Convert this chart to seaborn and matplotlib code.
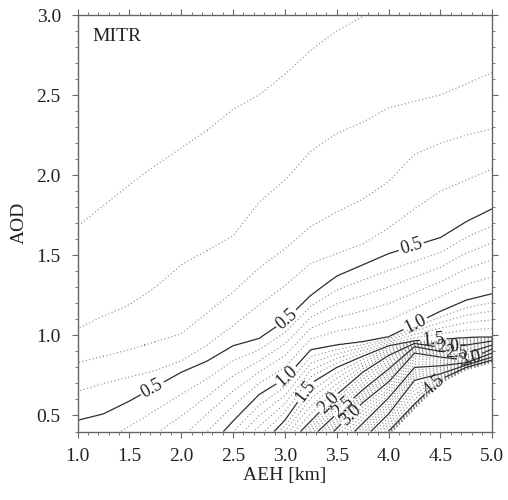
import numpy as np
import matplotlib
matplotlib.use("Agg")
import matplotlib.pyplot as plt
import seaborn as sns
from matplotlib.ticker import MultipleLocator, FormatStrFormatter

# ---------------- data ----------------
# AEH columns [km]
aeh_cols = [1.0, 1.25, 1.5, 1.75, 2.0, 2.25, 2.5, 2.75, 3.0,
            3.25, 3.5, 3.75, 4.0, 4.25, 4.5, 4.75, 5.0]

# AOD at which the field crosses each level, per AEH column
# (values outside 0.4-3.0 are estimated continuations beyond the frame)
aod_lvl_0_0 = [2.90, 3.00, 3.10, 3.20, 3.30, 3.40, 3.50, 3.60, 3.70,
               3.80, 3.90, 4.00, 4.10, 4.20, 4.30, 4.40, 4.50]
aod_lvl_0_1 = [1.68, 1.81, 1.94, 2.06, 2.17, 2.28, 2.41, 2.50, 2.63,
               2.78, 2.90, 2.99, 3.10, 3.20, 3.30, 3.40, 3.50]
aod_lvl_0_2 = [1.04, 1.12, 1.19, 1.30, 1.44, 1.53, 1.62, 1.83, 1.97,
               2.15, 2.26, 2.33, 2.42, 2.46, 2.50, 2.57, 2.64]
aod_lvl_0_3 = [0.83, 0.87, 0.91, 0.96, 1.01, 1.14, 1.27, 1.42, 1.54,
               1.68, 1.77, 1.85, 1.96, 2.13, 2.20, 2.25, 2.29]
aod_lvl_0_4 = [0.65, 0.70, 0.74, 0.78, 0.84, 0.94, 1.06, 1.19, 1.31,
               1.45, 1.51, 1.57, 1.67, 1.79, 1.90, 1.97, 2.04]
aod_lvl_0_5 = [0.47, 0.51, 0.59, 0.68, 0.77, 0.84, 0.935, 0.98, 1.09,
               1.25, 1.37, 1.44, 1.51, 1.56, 1.61, 1.71, 1.79]
aod_lvl_1_0 = [-0.70, -0.34, -0.20, -0.06, 0.085, 0.29, 0.465, 0.63, 0.73,
               0.91, 0.94, 0.96, 0.99, 1.07, 1.15, 1.22, 1.26]
aod_lvl_1_5 = [-0.84, -0.68, -0.52, -0.35, -0.19, -0.03, 0.13, 0.30, 0.47,
               0.70, 0.80, 0.87, 0.935, 0.965, 0.975, 0.985, 0.99]
aod_lvl_2_0 = [-1.00, -0.84, -0.67, -0.51, -0.35, -0.19, -0.02, 0.14, 0.30,
               0.465, 0.63, 0.77, 0.875, 0.95, 0.925, 0.94, 0.965]
aod_lvl_2_5 = [-1.10, -0.94, -0.78, -0.61, -0.45, -0.29, -0.13, 0.04, 0.20,
               0.36, 0.51, 0.66, 0.79, 0.93, 0.90, 0.89, 0.94]
aod_lvl_3_0 = [-1.21, -1.04, -0.88, -0.72, -0.56, -0.39, -0.23, -0.07, 0.09,
               0.26, 0.42, 0.58, 0.71, 0.89, 0.865, 0.845, 0.915]
aod_lvl_3_5 = [-1.34, -1.17, -1.01, -0.85, -0.69, -0.52, -0.36, -0.20, -0.04,
               0.13, 0.29, 0.45, 0.61, 0.80, 0.81, 0.83, 0.89]
aod_lvl_4_0 = [-1.44, -1.28, -1.11, -0.95, -0.79, -0.63, -0.46, -0.30, -0.14,
               0.02, 0.19, 0.35, 0.51, 0.72, 0.76, 0.815, 0.865]
aod_lvl_4_5 = [-1.55, -1.39, -1.23, -1.06, -0.90, -0.74, -0.58, -0.41, -0.25,
               -0.09, 0.08, 0.24, 0.40, 0.57, 0.725, 0.80, 0.845]
aod_lvl_5_5 = [-1.58, -1.42, -1.26, -1.09, -0.93, -0.77, -0.61, -0.44, -0.28,
               -0.12, 0.05, 0.21, 0.37, 0.54, 0.70, 0.785, 0.83]

level_values = [0.0, 0.1, 0.2, 0.3, 0.4, 0.5, 1.0, 1.5, 2.0, 2.5,
                3.0, 3.5, 4.0, 4.5, 5.5]
level_crossings = [aod_lvl_0_0, aod_lvl_0_1, aod_lvl_0_2, aod_lvl_0_3,
                   aod_lvl_0_4, aod_lvl_0_5, aod_lvl_1_0, aod_lvl_1_5,
                   aod_lvl_2_0, aod_lvl_2_5, aod_lvl_3_0, aod_lvl_3_5,
                   aod_lvl_4_0, aod_lvl_4_5, aod_lvl_5_5]

panel_title = "MITR"
x_label = "AEH [km]"
y_label = "AOD"

# ---------------- build the field ----------------
xf = np.linspace(1.0, 5.0, 401)
yf = np.linspace(0.4, 3.0, 521)
C = np.array([np.interp(xf, aeh_cols, c) for c in level_crossings])
lv = np.array(level_values)
Z = np.empty((yf.size, xf.size))
for i in range(xf.size):
    Z[:, i] = np.interp(yf, C[::-1, i], lv[::-1])

solid_levels = [0.5, 1.0, 1.5, 2.0, 2.5, 3.0, 3.5, 4.0, 4.5]
dotted_levels = [round(0.1 * k, 1) for k in range(1, 55)
                 if (k % 5 != 0) or k > 45]

# ---------------- style ----------------
sns.set_style("ticks")
plt.rcParams['font.family'] = ['Liberation Serif', 'DejaVu Serif']

fig = plt.figure(figsize=(5.08, 5.0), dpi=100)
ax = fig.add_axes([0.1526, 0.137, 0.8165, 0.833])

ax.contour(xf, yf, Z, levels=dotted_levels, colors='#8a8a8a',
           linewidths=0.8, linestyles=[(0, (1, 2.2))])

label_spots = {
    0.5: [(1.73, 0.66), (3.02, 1.10), (4.22, 1.55)],
    1.0: [(3.03, 0.74), (4.27, 1.06)],
    1.5: [(3.20, 0.65), (4.43, 0.97)],
    2.0: [(3.42, 0.58), (4.57, 0.93)],
    2.5: [(3.57, 0.55), (4.66, 0.90)],
    3.0: [(3.64, 0.50), (4.78, 0.86)],
    4.5: [(4.44, 0.69)],
}
for lev in solid_levels:
    cs = ax.contour(xf, yf, Z, levels=[lev], colors='#2e2e2e',
                    linewidths=0.9, linestyles='solid')
    if lev in label_spots:
        ax.clabel(cs, fmt='%.1f', fontsize=13, inline=True,
                  inline_spacing=2, manual=label_spots[lev],
                  colors='#222222')

ax.set_xlim(1.0, 5.0)
ax.set_ylim(0.4, 3.0)
ax.xaxis.set_major_locator(MultipleLocator(0.5))
ax.xaxis.set_minor_locator(MultipleLocator(0.1))
ax.yaxis.set_major_locator(MultipleLocator(0.5))
ax.yaxis.set_minor_locator(MultipleLocator(0.1))
ax.xaxis.set_major_formatter(FormatStrFormatter('%.1f'))
ax.yaxis.set_major_formatter(FormatStrFormatter('%.1f'))
ax.tick_params(which='both', direction='out', top=True, right=True,
               labeltop=False, labelright=False, colors='#666666',
               labelcolor='#222222')
ax.tick_params(which='major', length=4, width=0.8, labelsize=14, pad=8)
ax.tick_params(which='minor', length=2.2, width=0.6)
for sp in ax.spines.values():
    sp.set_color('#666666')
    sp.set_linewidth(1.0)

ax.set_xlabel(x_label, fontsize=14, color='#222222', labelpad=1)
ax.set_ylabel(y_label, fontsize=14, color='#222222', labelpad=6)
ax.text(0.035, 0.968, panel_title, transform=ax.transAxes, fontsize=14,
        va='top', ha='left', color='#222222')

fig.savefig("out.png", dpi=100)
